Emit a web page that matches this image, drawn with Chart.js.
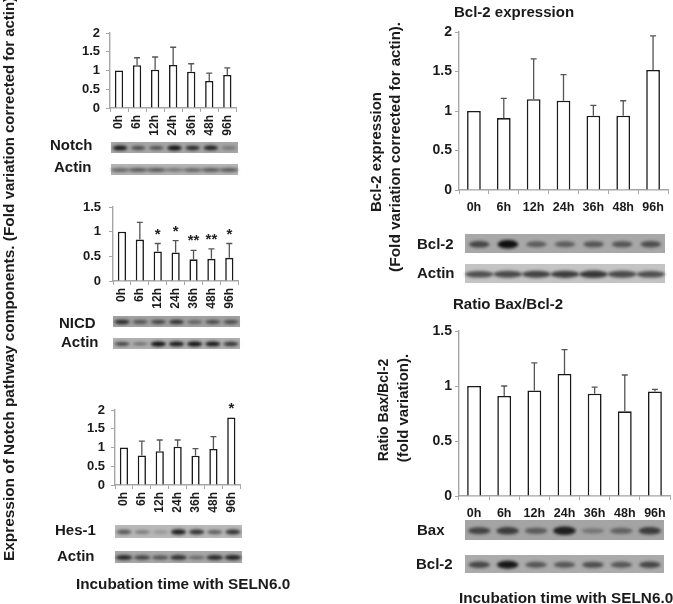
<!DOCTYPE html>
<html>
<head>
<meta charset="utf-8">
<script src="https://cdn.jsdelivr.net/npm/chart.js@4"></script>
<style>
html, body { margin: 0; background: #fff; }
body { position: relative; width: 673px; height: 604px; overflow: hidden; font-family: "Liberation Sans", Arial, sans-serif; font-weight: bold; color: #1a1a1a; }
canvas { position: absolute; }
.t { position: absolute; white-space: nowrap; }
.r { transform-origin: 0 0; transform: rotate(-90deg); text-align: center; }
.s { font-size: 0.97em; }
</style>
</head>
<body>
<canvas id="blots" width="673" height="604" style="left:0;top:0"></canvas>

<div class="t r" style="left:0px;top:561px;font-size:15.4px;line-height:18px">Expression of Notch pathway components. (Fold <span class="s">variation corrected for actin).</span></div>
<div class="t r" style="left:367px;top:247px;font-size:15px;width:190px;line-height:18px">Bcl-2 expression</div>
<div class="t r" style="left:386px;top:282px;font-size:15.5px;width:270px;line-height:18px">(Fold <span class="s">variation corrected for actin).</span></div>
<div class="t r" style="left:374px;top:465px;font-size:14px;width:110px;line-height:18px">Ratio Bax/Bcl-2</div>
<div class="t r" style="left:394px;top:463px;font-size:15px;width:110px;line-height:18px">(fold variation).</div>

<div class="t" style="left:454px;top:3px;font-size:15px">Bcl-2 expression</div>
<div class="t" style="left:453px;top:295px;font-size:15px">Ratio Bax/Bcl-2</div>
<div class="t" style="left:76px;top:575px;font-size:15.3px">Incubation time with SELN6.0</div>
<div class="t" style="left:459px;top:589px;font-size:15.3px">Incubation time with SELN6.0</div>

<div class="t" style="left:50px;top:136px;font-size:15px">Notch</div>
<div class="t" style="left:54px;top:158px;font-size:15px">Actin</div>
<div class="t" style="left:59px;top:314px;font-size:15px">NICD</div>
<div class="t" style="left:61px;top:333px;font-size:15px">Actin</div>
<div class="t" style="left:55px;top:521px;font-size:15px">Hes-1</div>
<div class="t" style="left:57px;top:547px;font-size:15px">Actin</div>
<div class="t" style="left:417px;top:235px;font-size:15px">Bcl-2</div>
<div class="t" style="left:417px;top:264px;font-size:15px">Actin</div>
<div class="t" style="left:417px;top:521px;font-size:15px">Bax</div>
<div class="t" style="left:416px;top:555px;font-size:15px">Bcl-2</div>

<canvas id="notch"></canvas>
<canvas id="nicd"></canvas>
<canvas id="hes"></canvas>
<canvas id="bcl"></canvas>
<canvas id="ratio"></canvas>

<script>
var hours = ['0h', '6h', '12h', '24h', '36h', '48h', '96h'];

var notchValues = [1, 1.14, 1.02, 1.15, 0.97, 0.72, 0.88];
var notchErrors = [0, 0.2, 0.34, 0.47, 0.21, 0.21, 0.19];
var notchStars = ['', '', '', '', '', '', ''];

var nicdValues = [1, 0.84, 0.6, 0.58, 0.44, 0.45, 0.47];
var nicdErrors = [0, 0.35, 0.16, 0.24, 0.18, 0.2, 0.29];
var nicdStars = ['', '', '*', '*', '**', '**', '*'];

var hesValues = [1, 0.79, 0.9, 1.02, 0.78, 0.96, 1.8];
var hesErrors = [0, 0.38, 0.3, 0.18, 0.19, 0.33, 0];
var hesStars = ['', '', '', '', '', '', '*'];

var bclValues = [1, 0.91, 1.15, 1.13, 0.94, 0.94, 1.52];
var bclErrors = [0, 0.25, 0.51, 0.33, 0.13, 0.19, 0.43];

var ratioValues = [1, 0.91, 0.96, 1.11, 0.93, 0.77, 0.95];
var ratioErrors = [0, 0.09, 0.25, 0.22, 0.06, 0.33, 0.02];

var yTicksTwo = [0, 0.5, 1, 1.5, 2];
var yTicksOneHalf = [0, 0.5, 1, 1.5];

// band strength per lane on each blot, 0 to 1
var notchBands = [0.85, 0.55, 0.5, 0.95, 0.75, 0.8, 0.3];
var notchActin = [0.45, 0.5, 0.5, 0.35, 0.45, 0.5, 0.5];
var nicdBands = [0.75, 0.5, 0.6, 0.7, 0.4, 0.55, 0.55];
var nicdActin = [0.6, 0.35, 0.95, 0.85, 0.95, 0.85, 0.7];
var hesBands = [0.5, 0.3, 0.15, 0.8, 0.7, 0.45, 0.7];
var hesActin = [0.75, 0.6, 0.5, 0.7, 0.35, 0.75, 0.8];
var bclBands = [0.55, 0.9, 0.4, 0.4, 0.45, 0.45, 0.5];
var bclActin = [0.55, 0.58, 0.62, 0.65, 0.68, 0.58, 0.55];
var baxBands = [0.55, 0.6, 0.4, 0.8, 0.22, 0.35, 0.6];
var bcl2Bands = [0.55, 0.85, 0.45, 0.45, 0.5, 0.45, 0.55];

function drawBlot(bands, x, y, w, h, grey, reach) {
    var c = document.getElementById('blots').getContext('2d');
    c.filter = 'blur(0.7px)';
    c.fillStyle = grey;
    c.fillRect(x, y, w, h);
    c.filter = 'blur(1.5px)';
    var lane = w / bands.length;
    bands.forEach(function (b, i) {
        c.fillStyle = 'rgba(15,15,15,' + Math.min(1, b + 0.1) + ')';
        c.beginPath();
        c.ellipse(x + lane * (i + 0.5), y + h * 0.54, lane * reach, h * (0.1 + 0.14 * b), 0, 0, 7);
        c.fill();
    });
    c.filter = 'none';
}

drawBlot(notchBands, 111, 142, 127, 11, '#a6a6a6', 0.4);
drawBlot(notchActin, 111, 164, 127, 11, '#b4b4b4', 0.52);
drawBlot(nicdBands, 113, 316, 127, 11, '#a2a2a2', 0.42);
drawBlot(nicdActin, 113, 338, 127, 11, '#b0b0b0', 0.42);
drawBlot(hesBands, 115, 525, 127, 13, '#b8b8b8', 0.42);
drawBlot(hesActin, 115, 551, 127, 12, '#a8a8a8', 0.46);
drawBlot(bclBands, 465, 234, 200, 19, '#a8a8a8', 0.36);
drawBlot(bclActin, 465, 264, 200, 19, '#c4c4c4', 0.5);
drawBlot(baxBands, 465, 520, 199, 20, '#a4a4a4', 0.4);
drawBlot(bcl2Bands, 465, 555, 199, 18, '#ababab', 0.38);

// error bars and stars are worked out from the chart's own scales
var errorBars = {
    id: 'errorBars',
    afterDatasetsDraw: function (chart, args, opts) {
        var c = chart.ctx;
        var meta = chart.getDatasetMeta(0);
        var yScale = chart.scales.y;
        c.save();
        c.strokeStyle = '#555';
        c.lineWidth = 1.3;
        meta.data.forEach(function (bar, i) {
            var v = chart.data.datasets[0].data[i];
            var top = yScale.getPixelForValue(v + opts.errors[i]);
            if (opts.errors[i] > 0) {
                c.beginPath();
                c.moveTo(bar.x, yScale.getPixelForValue(v));
                c.lineTo(bar.x, top);
                c.moveTo(bar.x - opts.cap, top);
                c.lineTo(bar.x + opts.cap, top);
                c.stroke();
            }
            if (opts.stars && opts.stars[i]) {
                c.fillStyle = '#222';
                c.font = 'bold 15px "Liberation Sans"';
                c.textAlign = 'center';
                c.textBaseline = 'alphabetic';
                c.fillText(opts.stars[i], bar.x, top - 5);
            }
        });
        c.restore();
    }
};

function makeChart(id, o) {
    var padTop = 20, yWidth = 44, xHeight = o.xHeight, padRight = 4;
    var cv = document.getElementById(id);
    cv.width = o.right - o.left + yWidth + padRight;
    cv.height = o.bottom - o.top + padTop + xHeight;
    cv.style.left = (o.left - yWidth) + 'px';
    cv.style.top = (o.top - padTop) + 'px';
    return new Chart(cv, {
        type: 'bar',
        data: {
            labels: hours,
            datasets: [{
                data: o.values,
                backgroundColor: '#ffffff',
                borderColor: '#1a1a1a',
                borderWidth: { top: 1.6, left: 1.6, right: 1.6, bottom: 0 },
                barPercentage: 0.46,
                categoryPercentage: 1
            }]
        },
        plugins: [errorBars],
        options: {
            responsive: false,
            animation: false,
            layout: { padding: { top: padTop, right: padRight, left: 0, bottom: 0 } },
            plugins: {
                legend: { display: false },
                tooltip: { enabled: false },
                errorBars: { errors: o.errors, stars: o.stars, cap: 3 }
            },
            scales: {
                x: {
                    afterFit: function (s) { s.height = xHeight; },
                    border: { color: '#a6a6a6', width: 1.4 },
                    grid: { drawOnChartArea: false, color: '#a6a6a6', tickLength: 4 },
                    ticks: {
                        color: '#1a1a1a',
                        font: { family: 'Liberation Sans', weight: 'bold', size: o.xFont },
                        minRotation: o.rotate,
                        maxRotation: o.rotate,
                        padding: o.xPad,
                        autoSkip: false
                    }
                },
                y: {
                    min: 0,
                    max: o.yTicks[o.yTicks.length - 1],
                    afterFit: function (s) { s.width = yWidth; },
                    afterBuildTicks: function (s) { s.ticks = o.yTicks.map(function (v) { return { value: v }; }); },
                    border: { color: '#a6a6a6', width: 1.4 },
                    grid: { drawOnChartArea: false, color: '#a6a6a6', tickLength: 4 },
                    ticks: {
                        color: '#1a1a1a',
                        font: { family: 'Liberation Sans', weight: 'bold', size: o.yFont },
                        padding: o.yPad,
                        autoSkip: false,
                        callback: function (v) { return String(v); }
                    }
                }
            }
        }
    });
}

makeChart('notch', { values: notchValues, errors: notchErrors, stars: notchStars, yTicks: yTicksTwo, left: 110, right: 241, top: 33, bottom: 108, xHeight: 34, rotate: 90, xFont: 12, yFont: 13, xPad: 3, yPad: 6 });
makeChart('nicd', { values: nicdValues, errors: nicdErrors, stars: nicdStars, yTicks: yTicksOneHalf, left: 113, right: 243, top: 207, bottom: 281, xHeight: 34, rotate: 90, xFont: 12, yFont: 13, xPad: 3, yPad: 8 });
makeChart('hes', { values: hesValues, errors: hesErrors, stars: hesStars, yTicks: yTicksTwo, left: 115, right: 245, top: 410, bottom: 485, xHeight: 34, rotate: 90, xFont: 12, yFont: 13, xPad: 3, yPad: 6 });
makeChart('bcl', { values: bclValues, errors: bclErrors, yTicks: yTicksTwo, left: 459, right: 668, top: 32, bottom: 190, xHeight: 30, rotate: 0, xFont: 12.5, yFont: 14, xPad: 6, yPad: 3 });
makeChart('ratio', { values: ratioValues, errors: ratioErrors, yTicks: yTicksOneHalf, left: 459, right: 670, top: 331, bottom: 496, xHeight: 24, rotate: 0, xFont: 12.5, yFont: 14, xPad: 6, yPad: 3 });
</script>
</body>
</html>
